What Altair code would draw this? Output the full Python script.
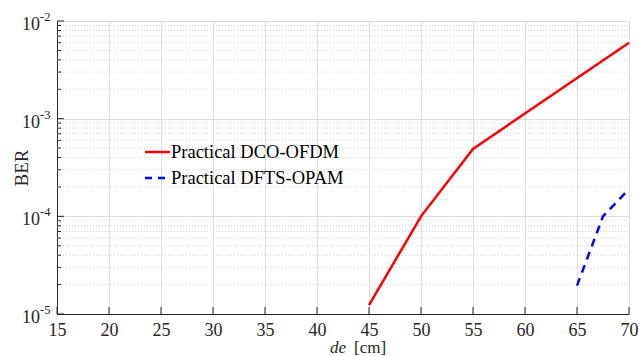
import altair as alt
import pandas as pd

# Data
dco_x = [45, 50, 55, 70]
dco_y = [1.23e-5, 1.0e-4, 4.9e-4, 6.0e-3]
dfts_x = [65, 67.5, 70]
dfts_y = [1.95e-5, 1.0e-4, 1.9e-4]
x_ticks = [15, 20, 25, 30, 35, 40, 45, 50, 55, 60, 65, 70]
y_major = [1e-5, 1e-4, 1e-3, 1e-2]
y_exp = ["-5", "-4", "-3", "-2"]
series_names = ["Practical DCO-OFDM", "Practical DFTS-OPAM"]

y_minor = [m * 10.0 ** e for e in (-5, -4, -3) for m in range(2, 10)]

FONT = "Liberation Serif"
W, H = 572, 293

xs = alt.Scale(domain=[15, 70], nice=False, zero=False)
ys = alt.Scale(type="log", domain=[1e-5, 1e-2], nice=False)

df_dco = pd.DataFrame({"x": dco_x, "y": dco_y})
df_dfts = pd.DataFrame({"x": dfts_x, "y": dfts_y})
df_minor = pd.DataFrame({"y": y_minor})
df_major = pd.DataFrame({"y": y_major, "e": y_exp, "b": ["10"] * 4})
df_xt = pd.DataFrame({"x": x_ticks})
df_one = pd.DataFrame({"k": [0]})

base_axes = alt.Chart(df_xt).mark_rule(opacity=0).encode(
    x=alt.X("x:Q", scale=xs, axis=alt.Axis(values=x_ticks, grid=True, gridColor="#dcdcdc",
             gridWidth=1, domainColor="#262626", domainWidth=1, ticks=False,
             labelFont=FONT, labelFontSize=18, labelFontWeight="normal", labelColor="#262626",
             labelPadding=7, title=None, labelFlush=False)),
    y=alt.value(0),
)

y_axis_layer = alt.Chart(df_major).mark_rule(opacity=0).encode(
    y=alt.Y("y:Q", scale=ys, axis=alt.Axis(values=y_major, grid=True, gridColor="#dcdcdc",
             gridWidth=1, domainColor="#262626", domainWidth=1, ticks=False,
             labels=False, title="BER", titleFont=FONT, titleFontSize=19,
             titleFontWeight="normal", titleColor="#262626", titlePadding=26)),
    x=alt.value(0),
)

minor_grid = alt.Chart(df_minor).mark_rule(color="#d4d4d4", strokeDash=[1, 2], strokeWidth=1).encode(
    y=alt.Y("y:Q", scale=ys), x=alt.value(0), x2=alt.value(W)
)
minor_ticks = alt.Chart(df_minor).mark_rule(color="#262626", strokeWidth=1).encode(
    y=alt.Y("y:Q", scale=ys), x=alt.value(0), x2=alt.value(4)
)
major_ticks = alt.Chart(df_major).mark_rule(color="#262626", strokeWidth=1).encode(
    y=alt.Y("y:Q", scale=ys), x=alt.value(0), x2=alt.value(7)
)
x_tick_marks = alt.Chart(df_xt).mark_rule(color="#262626", strokeWidth=1).encode(
    x=alt.X("x:Q", scale=xs), y=alt.value(H), y2=alt.value(H - 7)
)

y_base = alt.Chart(df_major).mark_text(font=FONT, fontSize=18, fontWeight="normal", align="right",
                                       baseline="middle", color="#262626", dy=4).encode(
    y=alt.Y("y:Q", scale=ys), x=alt.value(-17), text="b:N"
)
y_expo = alt.Chart(df_major).mark_text(font=FONT, fontSize=12.5, fontWeight="normal", align="left",
                                       baseline="middle", color="#262626", dy=-4).encode(
    y=alt.Y("y:Q", scale=ys), x=alt.value(-17), text="e:N"
)

line_dco = alt.Chart(df_dco).mark_line(color="#ff0000", strokeWidth=2.5).encode(
    x=alt.X("x:Q", scale=xs), y=alt.Y("y:Q", scale=ys)
)
line_dfts = alt.Chart(df_dfts).mark_line(color="#0000ff", strokeWidth=2.5, strokeDash=[8, 6]).encode(
    x=alt.X("x:Q", scale=xs), y=alt.Y("y:Q", scale=ys)
)

# x-axis title: italic "de" + "[cm]"
xt1 = alt.Chart(df_one).mark_text(text="de", font=FONT, fontSize=17, fontStyle="italic",
                                  fontWeight="normal", align="right", baseline="middle",
                                  color="#262626").encode(
    x=alt.value(289), y=alt.value(H + 34))
xt2 = alt.Chart(df_one).mark_text(text="[cm]", font=FONT, fontSize=17, fontWeight="normal",
                                  align="left", baseline="middle", color="#262626").encode(
    x=alt.value(297), y=alt.value(H + 34))

# legend
leg1 = alt.Chart(df_one).mark_rule(color="#ff0000", strokeWidth=2.5).encode(
    x=alt.value(88), x2=alt.value(113), y=alt.value(131))
leg2 = alt.Chart(df_one).mark_rule(color="#0000ff", strokeWidth=2.5, strokeDash=[7, 6]).encode(
    x=alt.value(88), x2=alt.value(113), y=alt.value(157))
legt1 = alt.Chart(df_one).mark_text(text=series_names[0], font=FONT, fontSize=18.5, fontWeight="normal",
                                    align="left", baseline="middle", color="#000000").encode(
    x=alt.value(114), y=alt.value(131))
legt2 = alt.Chart(df_one).mark_text(text=series_names[1], font=FONT, fontSize=18.5, fontWeight="normal",
                                    align="left", baseline="middle", color="#000000").encode(
    x=alt.value(114), y=alt.value(157))

chart = alt.layer(
    base_axes, y_axis_layer, minor_grid, minor_ticks, major_ticks, x_tick_marks,
    y_base, y_expo, line_dco, line_dfts, xt1, xt2, leg1, leg2, legt1, legt2
).properties(
    width=W, height=H,
    autosize=alt.AutoSizeParams(type="none"),
    padding={"left": 57, "top": 21, "right": 10, "bottom": 42},
).configure_view(stroke="#dcdcdc", strokeWidth=1).configure(background="white")

chart.save("out.html", embed_options={"renderer": "svg", "actions": False})
